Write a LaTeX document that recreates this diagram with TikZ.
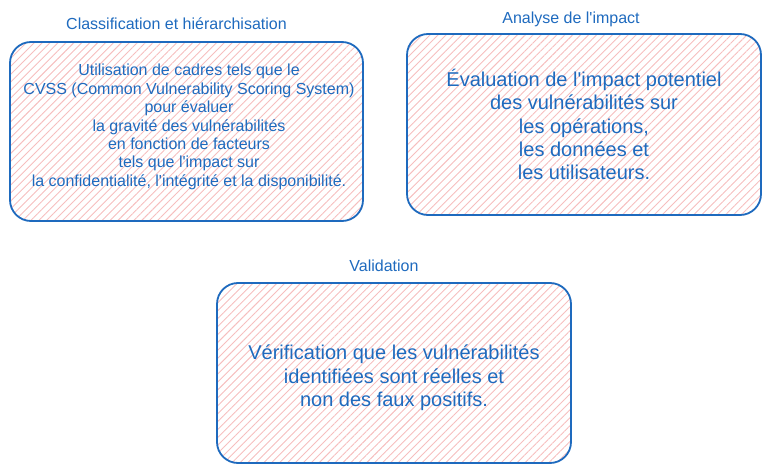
\documentclass[tikz,border=0pt]{standalone}
\usepackage{fontspec}
\setmainfont{Liberation Sans}
\usetikzlibrary{positioning,patterns.meta}
\definecolor{vulnblue}{RGB}{30,106,190}
\definecolor{hatchpink}{RGB}{246,190,190}
\tikzset{
    card/.style={draw=vulnblue, line width=1.8pt, rounded corners=21pt,
        pattern={Lines[angle=45,distance=5.6pt,line width=0.9pt]}, pattern color=hatchpink,
        inner sep=0pt, minimum width=354pt, minimum height=180pt},
    body/.style={text=vulnblue, align=center, inner sep=0pt},
    heading/.style={text=vulnblue, inner sep=0pt, text depth=0pt, font=\fontsize{16}{19}\selectfont},
    small/.style={font=\fontsize{16}{18.4}\selectfont},
    large/.style={font=\fontsize{20}{23.3}\selectfont}
}
\begin{document}
\begin{tikzpicture}[x=1pt,y=-1pt]
    \useasboundingbox (0,0) rectangle (770,473);
    % boxes
    \node[card, minimum width=353pt, minimum height=179pt] (cls) at (186.5,131.5) {};
    \node[card, minimum height=181pt] (imp) at (584,124.5) {};
    \node[card] (val) at (394,373) {};
    % texts
    \node[body, small] (clstext) at ([shift={(2.5pt,4.5pt)}]cls.center)
        {Utilisation de cadres tels que le\\CVSS (Common Vulnerability Scoring System)\\pour évaluer\\la gravité des vulnérabilités\\en fonction de facteurs\\tels que l\textquotesingle impact sur\\la confidentialité, l\textquotesingle intégrité et la disponibilité.};
    \node[body, large] (imptext) at (imp.center)
        {Évaluation de l\textquotesingle impact potentiel\\des vulnérabilités sur\\les opérations,\\les données et\\les utilisateurs.};
    \node[body, large] (valtext) at ([shift={(0pt,-5pt)}]val.center)
        {Vérification que les vulnérabilités\\identifiées sont réelles et\\non des faux positifs.};
    % titles
    \node[heading, above=12pt of cls, xshift=-10pt] (clstitle) {Classification et hiérarchisation};
    \node[heading, above=9pt of imp, xshift=-13pt] (imptitle) {Analyse de l\textquotesingle impact};
    \node[heading, above=10pt of val, xshift=-10pt] (valtitle) {Validation};
\end{tikzpicture}
\end{document}
